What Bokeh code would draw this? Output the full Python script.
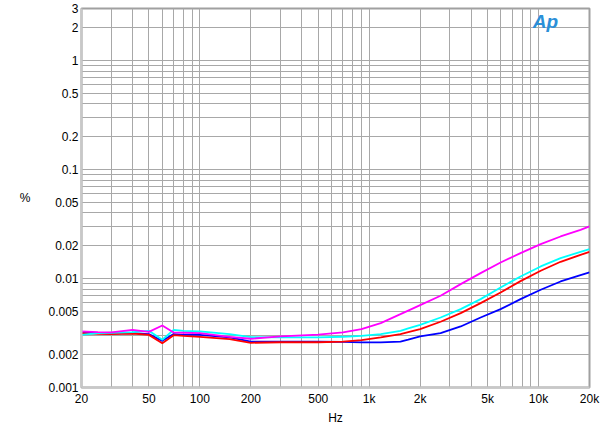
from bokeh.plotting import figure
from bokeh.models import Range1d, FixedTicker, CustomJSTickFormatter, Label
from bokeh.embed import file_html
from bokeh.resources import INLINE

# ---- data ----
freq = [20, 25, 30, 40, 50, 60, 70, 80, 100, 150, 200, 300, 500, 700,
        900, 1170, 1530, 1700, 2000, 2640, 3470, 4550, 5970, 7830,
        10300, 13500, 17700, 20000]

thd_magenta = [0.00327, 0.00322, 0.00320, 0.00338, 0.00324, 0.00371, 0.00320, 0.00318,
               0.00315, 0.00292, 0.00280, 0.00294, 0.00305, 0.00320,
               0.00343, 0.00390, 0.00471, 0.00508, 0.00570, 0.00694, 0.00888, 0.01120,
               0.01403, 0.01709, 0.02067, 0.02430, 0.02798, 0.03002]
thd_cyan = [0.00304, 0.00315, 0.00318, 0.00322, 0.00331, 0.00274, 0.00338, 0.00331,
            0.00327, 0.00309, 0.00290, 0.00288, 0.00288, 0.00292,
            0.00298, 0.00309, 0.00331, 0.00348, 0.00376, 0.00439, 0.00524, 0.00647,
            0.00827, 0.01044, 0.01290, 0.01538, 0.01758, 0.01860]
thd_red = [0.00315, 0.00311, 0.00309, 0.00313, 0.00304, 0.00255, 0.00302, 0.00298,
           0.00292, 0.00278, 0.00257, 0.00260, 0.00260, 0.00264,
           0.00272, 0.00288, 0.00309, 0.00322, 0.00343, 0.00401, 0.00481, 0.00594,
           0.00744, 0.00946, 0.01177, 0.01423, 0.01650, 0.01758]
thd_blue = [0.00320, 0.00315, 0.00313, 0.00315, 0.00309, 0.00268, 0.00309, 0.00304,
            0.00304, 0.00288, 0.00264, 0.00264, 0.00263, 0.00262,
            0.00259, 0.00259, 0.00264, 0.00275, 0.00294, 0.00315, 0.00363, 0.00439,
            0.00524, 0.00647, 0.00788, 0.00939, 0.01074, 0.01136]

x_ticks = [20, 50, 100, 200, 500, 1000, 2000, 5000, 10000, 20000]
y_ticks = [0.001, 0.002, 0.005, 0.01, 0.02, 0.05, 0.1, 0.2, 0.5, 1, 2, 3]

x_minor = [m * d for d in (10, 100, 1000, 10000) for m in range(1, 10)
           if 20 <= m * d <= 20000]
y_minor = [round(m * d, 6) for d in (0.001, 0.01, 0.1, 1) for m in range(1, 10)
           if 0.001 <= m * d <= 3.0001]

FONT = "Liberation Sans"
GRID = "#a8a8a8"

p = figure(width=600, height=435, x_axis_type="log", y_axis_type="log",
           x_range=Range1d(20, 20000), y_range=Range1d(0.001, 3),
           output_backend="svg", toolbar_location=None,
           min_border_left=81, min_border_right=11, min_border_top=8,
           min_border_bottom=48)
p.background_fill_color = "white"
p.border_fill_color = "white"
p.outline_line_color = "#a0a0a0"
p.outline_line_width = 2

p.xaxis.ticker = FixedTicker(ticks=x_ticks, minor_ticks=x_minor)
p.yaxis.ticker = FixedTicker(ticks=y_ticks, minor_ticks=y_minor)
p.xaxis.formatter = CustomJSTickFormatter(code="""
    if (tick >= 1000) { return (Math.round(tick/100)/10) + 'k'; }
    return String(tick);
""")
p.yaxis.formatter = CustomJSTickFormatter(code="return String(tick);")

for ax in (p.xaxis, p.yaxis):
    ax.major_tick_line_color = None
    ax.minor_tick_line_color = None
    ax.major_tick_out = 0
    ax.minor_tick_out = 0
    ax.major_tick_in = 0
    ax.minor_tick_in = 0
    ax.axis_line_color = "#c8c8c8"
    ax.axis_line_width = 2
    ax.major_label_text_font = FONT
    ax.major_label_text_font_size = "12px"
    ax.major_label_text_color = "black"
    ax.axis_label_text_font = FONT
    ax.axis_label_text_font_size = "12px"
    ax.axis_label_text_font_style = "normal"
    ax.axis_label_text_color = "black"

p.xaxis.axis_label = "Hz"
p.xaxis.major_label_standoff = 4
p.xaxis.axis_label_standoff = 2
p.yaxis.axis_label = "%"
p.yaxis.axis_label_orientation = "horizontal"
p.yaxis.major_label_standoff = 3
p.yaxis.axis_label_standoff = 15

for g in (p.xgrid, p.ygrid):
    g.grid_line_color = GRID
    g.grid_line_width = 1
    g.minor_grid_line_color = GRID
    g.minor_grid_line_width = 1

p.line(freq, thd_blue, line_color="#0000ff", line_width=1.8)
p.line(freq, thd_red, line_color="#ff0000", line_width=1.8)
p.line(freq, thd_cyan, line_color="#00ffff", line_width=1.8)
p.line(freq, thd_magenta, line_color="#ff00ff", line_width=1.8)

logo = Label(x=11000, y=2.3, text="Ap", text_align="center", text_baseline="middle",
             text_font=FONT, text_font_style="bold italic", text_font_size="19px",
             text_color="#2a8fd8")
p.add_layout(logo)

open("out.html", "w").write(file_html(p, INLINE))
